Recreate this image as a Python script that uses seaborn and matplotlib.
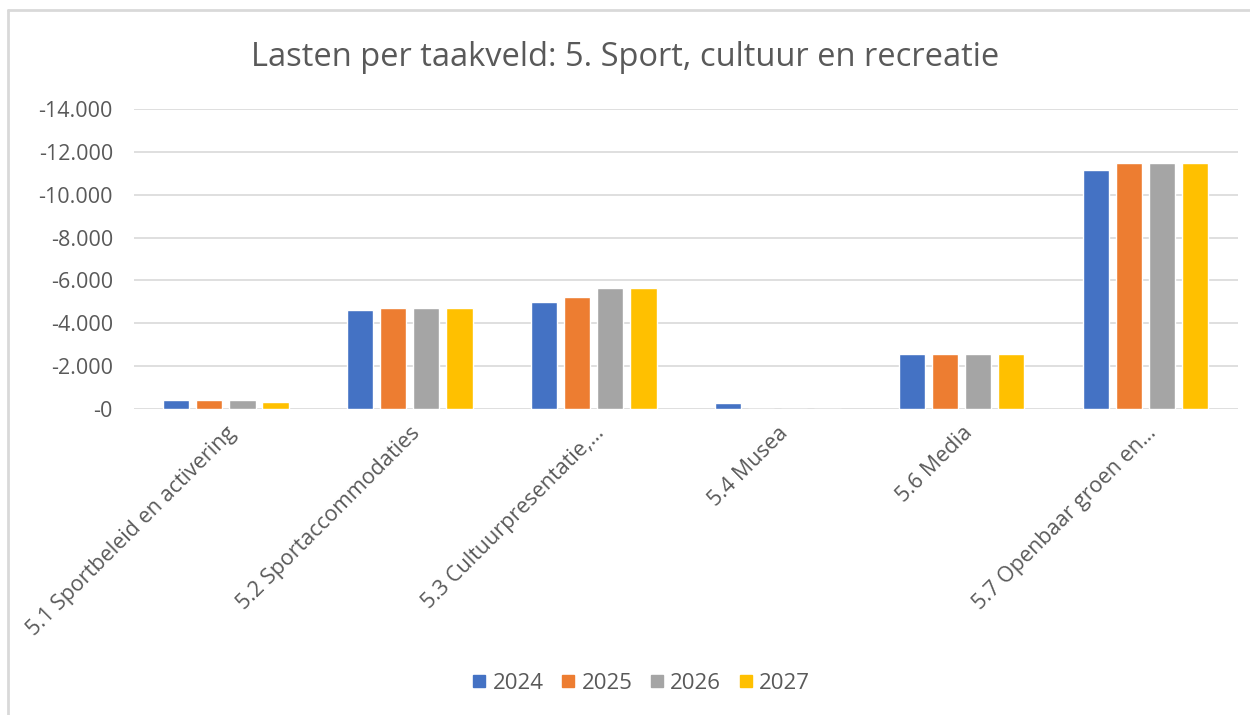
import pandas as pd
import matplotlib
matplotlib.use("Agg")
import matplotlib.pyplot as plt
from matplotlib.lines import Line2D
from matplotlib.ticker import FuncFormatter, MultipleLocator
import seaborn as sns

# data (values in euro x 1000, negative = lasten)
categories = [
    "5.1 Sportbeleid en activering",
    "5.2 Sportaccommodaties",
    "5.3 Cultuurpresentatie,\u2026",
    "5.4 Musea",
    "5.6 Media",
    "5.7 Openbaar groen en\u2026",
]
years = ["2024", "2025", "2026", "2027"]
values_2024 = [-420, -4620, -4980, -295, -2570, -11150]
values_2025 = [-420, -4710, -5210, 0, -2570, -11490]
values_2026 = [-420, -4710, -5630, 0, -2570, -11490]
values_2027 = [-340, -4710, -5630, 0, -2570, -11490]
colors = ["#4472C4", "#ED7D31", "#A5A5A5", "#FFC000"]

rows = []
for year, vals in zip(years, [values_2024, values_2025, values_2026, values_2027]):
    for cat, v in zip(categories, vals):
        rows.append({"taakveld": cat, "jaar": year, "lasten": v})
df = pd.DataFrame(rows)

sns.set_style("white")
plt.rcParams["font.family"] = ["Open Sans", "DejaVu Sans"]
text_color = "#595959"

fig = plt.figure(figsize=(12.5, 7.15), dpi=100)
ax = fig.add_axes([0.107, 0.428, 0.883, 0.4196])

sns.barplot(data=df, x="taakveld", y="lasten", hue="jaar", palette=colors,
            saturation=1, width=0.72, gap=0.2, errorbar=None, legend=False,
            ax=ax, zorder=3)

ax.set_ylim(0, -14000)
ax.yaxis.set_major_locator(MultipleLocator(2000))
ax.yaxis.set_major_formatter(FuncFormatter(
    lambda v, _: "-0" if v == 0 else f"{v:,.0f}".replace(",", ".")))
ax.grid(axis="y", color="#d9d9d9", linewidth=1.2, zorder=0)
ax.set_axisbelow(True)
for s in ax.spines.values():
    s.set_visible(False)
ax.set_xlabel("")
ax.set_ylabel("")
ax.tick_params(axis="y", colors=text_color, labelsize=15.5, length=0, pad=15)
ax.tick_params(axis="x", colors=text_color, labelsize=15.5, length=0, pad=10)
plt.setp(ax.get_xticklabels(), rotation=45, ha="right", rotation_mode="anchor")

fig.text(0.5, 0.92, "Lasten per taakveld: 5. Sport, cultuur en recreatie",
         ha="center", va="center", fontsize=23.5, color=text_color)

handles = [Line2D([], [], marker="s", linestyle="", markersize=9,
                  markerfacecolor=c, markeredgecolor=c) for c in colors]
fig.legend(handles, years, loc="center", bbox_to_anchor=(0.513, 0.044), ncol=4,
           frameon=False, fontsize=16, labelcolor=text_color, handlelength=0.6,
           handletextpad=0.3, columnspacing=0.8)

# chart frame (left and top edge visible in the reference)
fig.add_artist(Line2D([8 / 1250, 8 / 1250], [0, 1 - 10 / 715], transform=fig.transFigure,
                      color="#d9d9d9", linewidth=2))
fig.add_artist(Line2D([8 / 1250, 1], [1 - 10 / 715, 1 - 10 / 715], transform=fig.transFigure,
                      color="#d9d9d9", linewidth=2))

fig.savefig("out.png", dpi=100)
plt.close(fig)
